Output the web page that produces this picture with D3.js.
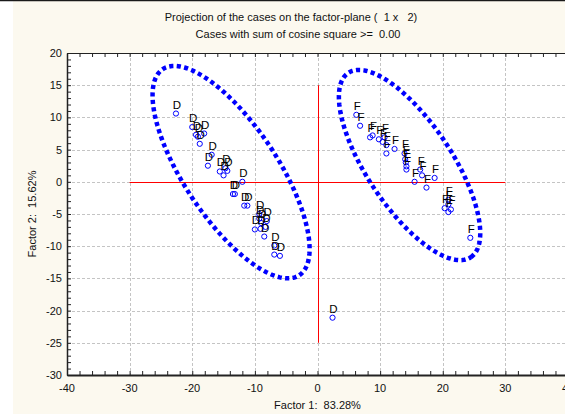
<!DOCTYPE html>
<html>
<head>
<meta charset="utf-8">
<script src="https://cdn.jsdelivr.net/npm/d3@7"></script>
<style>
  html, body { margin: 0; padding: 0; background: #ffffff; }
  svg { display: block; font-family: Arial, "Liberation Sans", sans-serif; }
  text { white-space: pre; }
</style>
</head>
<body>
<svg id="chart" width="565" height="414"></svg>
<script>
// Factor scores of the cases (Factor 1, Factor 2), grouped by case label.
const groupD_f1 = [-22.6, -20.0, -19.4, -19.1, -18.1, -18.8, -16.9, -17.5, -15.6, -15.0, -14.4, -14.7,
                   -12.0, -13.5, -13.2, -11.7, -11.2, -9.3, -9.3, -8.1, -9.0, -10.0, -9.1, -8.3, -8.5,
                   -6.9, -6.9, -6.0, 2.4];
const groupD_f2 = [10.6, 8.5, 7.3, 7.0, 7.5, 5.9, 4.2, 2.5, 1.6, 1.0, 1.7, 2.1,
                   0.0, -1.9, -1.9, -3.7, -3.7, -5.0, -5.7, -6.1, -6.4, -7.4, -7.3, -7.0, -8.5,
                   -9.9, -11.3, -11.5, -21.1];
const groupF_f1 = [6.2, 6.8, 8.4, 8.8, 9.8, 10.4, 10.7, 11.0, 11.0, 12.3, 13.9, 14.0, 14.1,
                   14.2, 14.2, 16.4, 16.7, 15.5, 17.4, 18.7, 20.9, 20.9, 20.3, 21.3, 20.9, 24.4];
const groupF_f2 = [10.4, 8.7, 6.9, 7.2, 6.6, 6.2, 6.9, 5.7, 4.4, 5.1, 4.4, 3.5, 3.0,
                   2.4, 1.9, 1.9, 1.0, 0.0, -0.9, 0.6, -2.8, -3.5, -4.1, -4.3, -4.7, -8.7];

// Group ellipses: centre and two half-axis vectors, in factor units.
const ellipseCenters = [[-13.8, 1.5], [14.7, 2.6]];
const ellipseMajor   = [[10.9, -16.0], [9.8, -14.3]];
const ellipseMinor   = [[6.2, 4.0], [5.6, 3.7]];

// Axis ticks and labels.
const xTicks = [-40, -30, -20, -10, 0, 10, 20, 30, 40];
const yTicks = [20, 15, 10, 5, 0, -5, -10, -15, -20, -25, -30];
const titleLines = ["Projection of the cases on the factor-plane (  1 x   2)",
                    "Cases with sum of cosine square >=  0.00"];
const xTitle = "Factor 1:  83.28%";
const yTitle = "Factor 2:  15.62%";

const svg = d3.select("#chart");
const W = 565, H = 414;

const x = d3.scaleLinear().domain([-40, 40]).range([67, 568]);
const y = d3.scaleLinear().domain([-30, 20]).range([375, 53]);

// Panel background
svg.append("rect").attr("x", 0).attr("y", 0).attr("width", W).attr("height", H).attr("fill", "#ffffff");
svg.append("rect").attr("x", 13).attr("y", 1).attr("width", W - 13).attr("height", H - 1).attr("fill", "#fcf9ef");
svg.append("line").attr("x1", 0).attr("x2", W).attr("y1", 0.5).attr("y2", 0.5)
  .attr("stroke", "#1a1a1a").attr("stroke-width", 1.5);

// Plot area
svg.append("rect")
  .attr("x", x(-40)).attr("y", y(20))
  .attr("width", x(40) - x(-40)).attr("height", y(-30) - y(20))
  .attr("fill", "#ffffff");

// Grid
const grid = svg.append("g").attr("stroke", "#c4c4c4").attr("stroke-width", 1)
  .attr("stroke-dasharray", "3 2").attr("fill", "none");
xTicks.filter(v => v > -40 && v < 40).forEach(v => {
  grid.append("line").attr("x1", Math.round(x(v)) + 0.5).attr("x2", Math.round(x(v)) + 0.5)
    .attr("y1", y(20)).attr("y2", y(-30));
});
yTicks.filter(v => v < 20 && v > -30).forEach(v => {
  grid.append("line").attr("y1", Math.round(y(v)) + 0.5).attr("y2", Math.round(y(v)) + 0.5)
    .attr("x1", x(-40)).attr("x2", x(40));
});

// Factor-plane origin lines
svg.append("line").attr("x1", x(-30)).attr("x2", x(30))
  .attr("y1", Math.round(y(0)) + 0.5).attr("y2", Math.round(y(0)) + 0.5)
  .attr("stroke", "#ff0000").attr("stroke-width", 1);
svg.append("line").attr("y1", y(15)).attr("y2", y(-25))
  .attr("x1", Math.round(x(0)) + 0.5).attr("x2", Math.round(x(0)) + 0.5)
  .attr("stroke", "#ff0000").attr("stroke-width", 1);

// Axes (ticks pointing inward)
const bottomAxis = d3.axisBottom(x).tickValues(d3.range(-40, 41, 2)).tickSizeInner(-4).tickSizeOuter(0).tickFormat("");
const topAxis = d3.axisTop(x).tickValues(d3.range(-40, 41, 2)).tickSizeInner(-4).tickSizeOuter(0).tickFormat("");
const leftAxis = d3.axisLeft(y).tickValues(d3.range(-30, 21, 1)).tickSizeInner(-4).tickSizeOuter(0).tickFormat("");

function styleAxis(g, w) {
  g.select(".domain").attr("stroke", "#222").attr("stroke-width", w);
  g.selectAll(".tick line").attr("stroke", "#222");
}
svg.append("g").attr("transform", `translate(0,${y(-30)})`).call(bottomAxis).call(g => styleAxis(g, 2));
svg.append("g").attr("transform", `translate(0,${y(20)})`).call(topAxis).call(g => styleAxis(g, 1.2));
svg.append("g").attr("transform", `translate(${x(-40)},0)`).call(leftAxis).call(g => styleAxis(g, 1.5));

// Tick labels
svg.append("g").selectAll("text").data(xTicks).join("text")
  .attr("x", d => x(d)).attr("y", y(-30) + 17)
  .attr("text-anchor", "middle").attr("font-size", 11).attr("fill", "#111")
  .text(d => d);
svg.append("g").selectAll("text").data(yTicks).join("text")
  .attr("x", x(-40) - 5).attr("y", d => y(d) + 4)
  .attr("text-anchor", "end").attr("font-size", 11).attr("fill", "#111")
  .text(d => d);

// Titles
svg.append("text").attr("x", 291).attr("y", 21).attr("text-anchor", "middle")
  .attr("font-size", 11).attr("fill", "#111").text(titleLines[0]);
svg.append("text").attr("x", 298).attr("y", 38).attr("text-anchor", "middle")
  .attr("font-size", 11).attr("fill", "#111").text(titleLines[1]);
svg.append("text").attr("x", (x(-40) + x(40)) / 2).attr("y", 409).attr("text-anchor", "middle")
  .attr("font-size", 11).attr("fill", "#111").text(xTitle);
svg.append("text").attr("transform", `translate(36,${(y(20) + y(-30)) / 2}) rotate(-90)`)
  .attr("text-anchor", "middle").attr("font-size", 11).attr("fill", "#111").text(yTitle);

// Group ellipses, drawn as heavy square dots
const tSteps = d3.range(0, 361, 2).map(a => a * Math.PI / 180);
const ellLine = d3.line().x(p => x(p[0])).y(p => y(p[1]));
ellipseCenters.forEach((c, i) => {
  const M = ellipseMajor[i], N = ellipseMinor[i];
  const pts = tSteps.map(t => [c[0] + M[0] * Math.cos(t) + N[0] * Math.sin(t),
                               c[1] + M[1] * Math.cos(t) + N[1] * Math.sin(t)]);
  svg.append("path").attr("d", ellLine(pts)).attr("fill", "none")
    .attr("stroke", "#0000ff").attr("stroke-width", 4.5)
    .attr("stroke-dasharray", "4.2 3.3").attr("stroke-linecap", "butt");
});

// Cases: open circles with their group letter above
const cases = [];
groupD_f1.forEach((v, i) => cases.push({ f1: v, f2: groupD_f2[i], label: "D" }));
groupF_f1.forEach((v, i) => cases.push({ f1: v, f2: groupF_f2[i], label: "F" }));

const pg = svg.append("g");
pg.selectAll("circle").data(cases).join("circle")
  .attr("cx", d => x(d.f1)).attr("cy", d => y(d.f2)).attr("r", 2.6)
  .attr("fill", "none").attr("stroke", "#0000ff").attr("stroke-width", 1);
pg.selectAll("text").data(cases).join("text")
  .attr("x", d => x(d.f1) + 1).attr("y", d => y(d.f2) - 5)
  .attr("text-anchor", "middle").attr("font-size", 11.5).attr("fill", "#000")
  .text(d => d.label);
</script>
</body>
</html>
